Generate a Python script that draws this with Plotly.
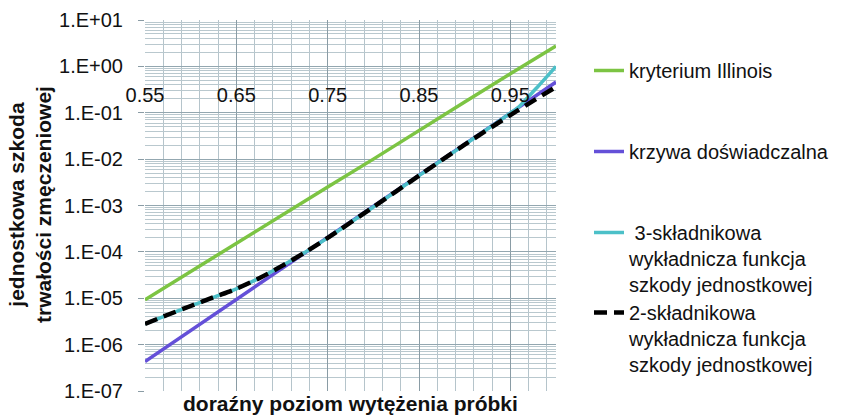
import plotly.graph_objects as go

# ---- data ----
x_grid = [0.55, 0.60, 0.65, 0.70, 0.75, 0.80, 0.85, 0.90, 0.95, 1.00]
illinois = [9.3e-6, 3.8e-5, 1.55e-4, 6.2e-4, 2.5e-3, 1.0e-2, 4.2e-2, 0.17, 0.69, 2.75]
experimental = [4.3e-7, 2.0e-6, 9.3e-6, 4.4e-5, 2.0e-4, 9.5e-4, 4.5e-3, 2.1e-2, 9.8e-2, 0.46]

x_three = [0.55, 0.575, 0.60, 0.625, 0.65, 0.675, 0.70, 0.725, 0.75, 0.80, 0.85,
           0.90, 0.95, 0.96, 0.97, 0.98, 0.99, 1.00]
three_comp = [2.8e-6, 4.4e-6, 6.8e-6, 1.05e-5, 1.6e-5, 2.7e-5, 5.0e-5, 9.7e-5, 2.0e-4,
              9.3e-4, 4.4e-3, 2.05e-2, 9.8e-2, 0.138, 0.224, 0.363, 0.60, 1.0]

x_two = [0.55, 0.575, 0.60, 0.625, 0.65, 0.675, 0.70, 0.725, 0.75, 0.80, 0.85,
         0.90, 0.95, 0.975, 1.00]
two_comp = [2.8e-6, 4.4e-6, 6.8e-6, 1.05e-5, 1.6e-5, 2.7e-5, 5.0e-5, 9.7e-5, 2.0e-4,
            9.3e-4, 4.4e-3, 2.05e-2, 8.9e-2, 0.18, 0.36]

x_tick_vals = [0.55, 0.65, 0.75, 0.85, 0.95]
x_tick_text = ["0.55", "0.65", "0.75", "0.85", "0.95"]
y_tick_vals = [1e-7, 1e-6, 1e-5, 1e-4, 1e-3, 1e-2, 1e-1, 1e0, 1e1]
y_tick_text = ["1.E-07", "1.E-06", "1.E-05", "1.E-04", "1.E-03", "1.E-02",
               "1.E-01", "1.E+00", "1.E+01"]

names = ["kryterium Illinois",
         "krzywa doświadczalna",
         " 3-składnikowa<br>wykładnicza funkcja<br>szkody jednostkowej",
         "2-składnikowa<br>wykładnicza funkcja<br>szkody jednostkowej"]

FONT = "Liberation Sans, Arial, sans-serif"
FS = 20

fig = go.Figure()
fig.add_trace(go.Scatter(x=x_grid, y=experimental, mode="lines", name=names[1],
                         line=dict(color="#6450d8", width=3.5), legend="legend2"))
fig.add_trace(go.Scatter(x=x_three, y=three_comp, mode="lines", name=names[2],
                         line=dict(color="#4cc0c8", width=3.5, shape="spline",
                                   smoothing=0.8), legend="legend3"))
fig.add_trace(go.Scatter(x=x_two, y=two_comp, mode="lines", name=names[3],
                         line=dict(color="#000000", width=4.5, dash="13px,7px",
                                   shape="spline", smoothing=0.8),
                         legend="legend4"))
fig.add_trace(go.Scatter(x=x_grid, y=illinois, mode="lines", name=names[0],
                         line=dict(color="#7cc443", width=3.5), legend="legend"))

W, H = 841, 417
L, R, T, B = 145, 285, 20, 26
ph = H - T - B
pw = W - L - R

def py2paper(py):
    return (H - B - py) / ph

def leg(ycenter):
    return dict(x=(589 - L) / pw, xanchor="left", y=py2paper(ycenter - 22),
                yanchor="top",
                font=dict(family=FONT, size=FS, color="#111111"),
                bgcolor="rgba(0,0,0,0)", valign="top", borderwidth=0,
                itemwidth=30, itemclick=False, itemdoubleclick=False)

fig.update_layout(
    width=W, height=H,
    margin=dict(l=L, r=R, t=T, b=B, pad=0, autoexpand=False),
    paper_bgcolor="white", plot_bgcolor="white",
    font=dict(family=FONT, size=FS, color="#111111"),
    showlegend=True,
    legend=leg(73),
    legend2=leg(154),
    legend3=leg(235),
    legend4=leg(315),
    xaxis=dict(
        range=[0.55, 1.0], type="linear",
        tickmode="array", tickvals=x_tick_vals, ticktext=x_tick_text,
        showgrid=True, gridcolor="#8a9ca5", gridwidth=1,
        minor=dict(tick0=0.55, dtick=0.02, showgrid=True, gridcolor="#b5c4cb",
                   gridwidth=1),
        showline=False, zeroline=False, ticks="",
        anchor="free", position=7 / 8,
        ticklabelstandoff=15,
        tickfont=dict(family=FONT, size=FS, color="#111111"),
    ),
    yaxis=dict(
        type="log", range=[-7, 1],
        tickmode="array", tickvals=y_tick_vals, ticktext=y_tick_text,
        showgrid=True, gridcolor="#93a7b0", gridwidth=1,
        minor=dict(dtick="D1", showgrid=True, gridcolor="#b9c8ce", gridwidth=1),
        ticks="outside", ticklen=6, tickcolor="#8a9ca5",
        showline=False, zeroline=False,
        ticklabelstandoff=11,
        tickfont=dict(family=FONT, size=FS, color="#111111"),
    ),
    annotations=[
        dict(text="<b>doraźny poziom wytężenia próbki</b>", xref="paper", yref="paper",
             x=0.5, y=0, xanchor="center", yanchor="top", yshift=1, showarrow=False,
             font=dict(family=FONT, size=21, color="#111111")),
        dict(text="<b>jednostkowa szkoda<br>trwałości zmęczeniowej</b>",
             xref="paper", yref="paper", x=(30 - L) / pw, y=py2paper(205),
             xanchor="center", yanchor="middle", textangle=-90, showarrow=False,
             font=dict(family=FONT, size=21, color="#111111")),
    ],
)

fig.write_html("out.html")
